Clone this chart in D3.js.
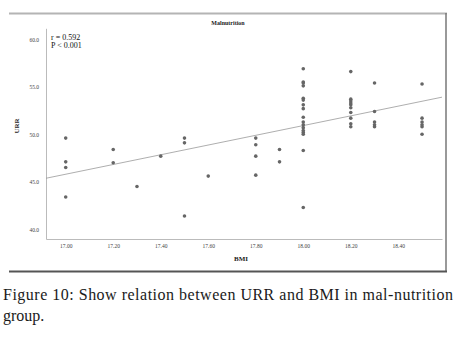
<!DOCTYPE html>
<html>
<head>
<meta charset="utf-8">
<script src="https://cdn.jsdelivr.net/npm/d3@7"></script>
<style>
  body { margin: 0; background: #fff; }
  svg { display: block; }
</style>
</head>
<body>
<div id="chart"></div>
<script>
// ---- data ----
const bmiValues = [
  17.0, 17.0, 17.0, 17.0,
  17.2, 17.2,
  17.3,
  17.4,
  17.5, 17.5, 17.5,
  17.6,
  17.8, 17.8, 17.8, 17.8,
  17.9, 17.9,
  18.0, 18.0, 18.0, 18.0, 18.0, 18.0, 18.0, 18.0, 18.0, 18.0, 18.0, 18.0, 18.0, 18.0, 18.0, 18.0, 18.0,
  18.2, 18.2, 18.2, 18.2, 18.2, 18.2, 18.2, 18.2, 18.2, 18.2,
  18.3, 18.3, 18.3, 18.3, 18.3,
  18.5, 18.5, 18.5, 18.5, 18.5, 18.5
];
const urrValues = [
  49.6, 47.1, 46.5, 43.4,
  48.4, 47.0,
  44.5,
  47.7,
  49.6, 49.1, 41.4,
  45.6,
  49.6, 48.9, 47.7, 45.7,
  48.4, 47.1,
  56.9, 55.5, 55.4, 55.1, 53.8, 53.6, 53.1, 52.7, 51.8, 51.3, 51.0, 50.7, 50.4, 50.2, 50.0, 48.3, 42.3,
  56.6, 53.7, 53.5, 53.3, 53.1, 52.8, 52.3, 51.7, 51.1, 50.8,
  55.4, 52.4, 51.3, 51.0, 50.8,
  55.3, 51.7, 51.3, 51.0, 50.8, 50.0
];
const xTicks = [17.0, 17.2, 17.4, 17.6, 17.8, 18.0, 18.2, 18.4];
const yTicks = [40, 45, 50, 55, 60];
const fitLine = { intercept17: 45.8, slope: 5.12 }; // URR = a + b*(BMI-17)
const stats = ["r = 0.592", "P < 0.001"];

const W = 456, H = 346;
const serif = "'Times New Roman', Tinos, 'DejaVu Serif', serif";

const svg = d3.select("#chart").append("svg")
  .attr("width", W).attr("height", H);

// frame (top light, right and bottom dark)
svg.append("line").attr("x1", 9).attr("x2", 447).attr("y1", 13.5).attr("y2", 13.5)
  .attr("stroke", "#b4b4b4").attr("stroke-width", 2);
svg.append("line").attr("x1", 446).attr("x2", 446).attr("y1", 13).attr("y2", 272)
  .attr("stroke", "#777").attr("stroke-width", 1.5);
svg.append("line").attr("x1", 9).attr("x2", 447).attr("y1", 271.5).attr("y2", 271.5)
  .attr("stroke", "#555").attr("stroke-width", 2);

// ---- scales ----
const x = d3.scaleLinear().domain([16.917, 18.584]).range([46, 442]);
const y = d3.scaleLinear().domain([38.98, 61.16]).range([239, 28.3]);

const xAxis = svg.append("g")
  .attr("transform", `translate(0,${y.range()[0]})`)
  .call(d3.axisBottom(x).tickValues(xTicks).tickFormat(d3.format(".2f"))
    .tickSizeInner(0).tickSizeOuter(0).tickPadding(5));
const yAxis = svg.append("g")
  .attr("transform", `translate(${x.range()[0]},0)`)
  .call(d3.axisLeft(y).tickValues(yTicks).tickFormat(d3.format(".1f"))
    .tickSizeInner(0).tickSizeOuter(0).tickPadding(7));

[xAxis, yAxis].forEach(g => {
  g.select(".domain").attr("stroke", "#bbb").attr("stroke-width", 1);
  g.selectAll("text").attr("font-family", serif).attr("font-size", 5.5).attr("fill", "#444");
});

// axis titles
svg.append("text")
  .attr("x", 241).attr("y", 261)
  .attr("text-anchor", "middle")
  .attr("font-family", serif)
  .attr("font-size", 7).attr("font-weight", "bold").attr("fill", "#222")
  .text("BMI");
svg.append("text")
  .attr("transform", "translate(19,126) rotate(-90)")
  .attr("text-anchor", "middle")
  .attr("font-family", serif)
  .attr("font-size", 7).attr("font-weight", "bold").attr("fill", "#222")
  .text("URR");

// title
svg.append("text")
  .attr("x", 228).attr("y", 25)
  .attr("text-anchor", "middle")
  .attr("font-family", serif)
  .attr("font-size", 6).attr("font-weight", "bold").attr("fill", "#222")
  .text("Malnutrition");

// fit line across the plot
const fitY = b => fitLine.intercept17 + fitLine.slope * (b - 17);
svg.append("line")
  .attr("x1", x(x.domain()[0])).attr("y1", y(fitY(x.domain()[0])))
  .attr("x2", x(x.domain()[1])).attr("y2", y(fitY(x.domain()[1])))
  .attr("stroke", "#999").attr("stroke-width", 0.8);

// points
svg.append("g")
  .selectAll("circle")
  .data(d3.zip(bmiValues, urrValues))
  .join("circle")
  .attr("cx", d => x(d[0]))
  .attr("cy", d => y(d[1]))
  .attr("r", 1.8)
  .attr("fill", "#666");

// stats annotation
svg.append("g").selectAll("text")
  .data(stats)
  .join("text")
  .attr("x", 51)
  .attr("y", (d, i) => 40 + i * 8)
  .attr("font-family", serif)
  .attr("font-size", 8).attr("fill", "#111")
  .text(d => d);

// caption
svg.append("text")
  .attr("x", 3).attr("y", 300)
  .attr("textLength", 450).attr("lengthAdjust", "spacing")
  .attr("font-family", serif)
  .attr("font-size", 16).attr("fill", "#1a1a1a")
  .text("Figure 10: Show relation between URR and BMI in mal-nutrition");
svg.append("text")
  .attr("x", 3).attr("y", 321)
  .attr("font-family", serif)
  .attr("font-size", 16).attr("fill", "#1a1a1a")
  .text("group.");
</script>
</body>
</html>
